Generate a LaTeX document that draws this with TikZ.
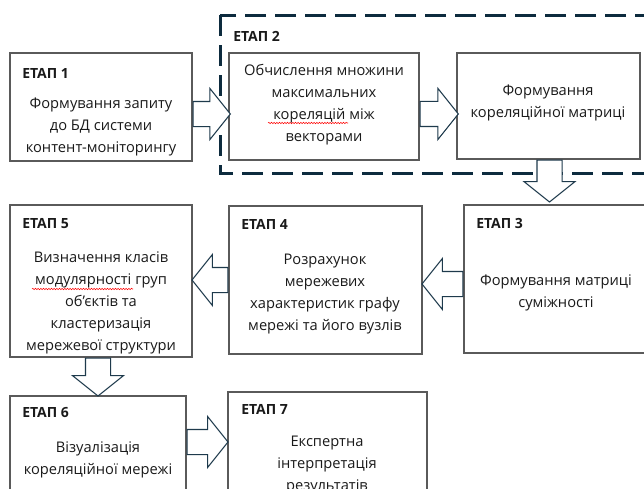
\documentclass[tikz,border=0pt]{standalone}
\usepackage{fontspec}
\setmainfont{Open Sans}
\usetikzlibrary{calc,shapes.arrows,decorations.pathmorphing}
\definecolor{boxc}{HTML}{5A5A5A}
\definecolor{arrc}{HTML}{1E3A4C}
\definecolor{dashc}{HTML}{0D2B3E}
\definecolor{txtc}{HTML}{1A1A1A}
\tikzset{
  stagebox/.style={draw=boxc,line width=0.8pt,fill=white,rectangle,inner sep=0pt},
  body/.style={align=center,text=txtc,font=\fontsize{11pt}{16.5pt}\selectfont,inner sep=0pt,yshift=-1.5pt},
  stagelabel/.style={anchor=west,text=txtc,font=\fontsize{10.5pt}{12pt}\selectfont\bfseries,inner sep=0pt},
  blk/.style={single arrow,draw=arrc,fill=white,line width=0.8pt,inner xsep=0pt,inner ysep=9pt,
    single arrow head extend=9.75pt,single arrow tip angle=102.7,anchor=tail},
  spell/.style={draw=red,line width=0.4pt,decorate,decoration={snake,amplitude=0.5pt,segment length=2pt}}
}
\begin{document}
\begin{tikzpicture}[x=0.75pt,y=-0.75pt]
\useasboundingbox (0,0) rectangle (644,489);
\clip (0,0) rectangle (644,489);
\fill[white] (0,0) rectangle (644,489);
% dashed group
\draw[dashc,line width=2.25pt,dash pattern=on 15.75pt off 6.75pt] (220,15) rectangle (670,173);
% boxes
\node[stagebox,minimum width=136.5pt,minimum height=81pt] (b1) at (101,107) {};
\node[stagebox,minimum width=142.5pt,minimum height=80.25pt] (b2) at (324,106.5) {};
\node[stagebox,minimum width=137.25pt,minimum height=79.5pt] (bm) at (548.5,106) {};
\node[stagebox,minimum width=139.5pt,minimum height=111pt] (b3) at (557,279) {};
\node[stagebox,minimum width=144.75pt,minimum height=111pt] (b4) at (325.5,280) {};
\node[stagebox,minimum width=136.5pt,minimum height=114pt] (b5) at (101,281) {};
\node[stagebox,minimum width=132pt,minimum height=93pt] (b6) at (98,458) {};
\node[stagebox,minimum width=149.25pt,minimum height=96pt] (b7) at (327.5,456) {};
% block arrows between boxes
\path let \p1=(b1.east), \p2=(b2.west) in
  node[blk,minimum height={\x2-\x1+1pt}] (a12) at ({\x1},{\y1-5.25pt}) {};
\path let \p1=(b2.east), \p2=(bm.west) in
  node[blk,minimum height={\x2-\x1+1pt}] (a2m) at ({\x1},{\y1-5.6pt}) {};
\path let \p1=(bm.south), \p2=(b3.north) in
  node[blk,rotate=-90,minimum height={\y1-\y2-2.25pt}] (am3) at ({\x1+0.75pt},{\y1}) {};
\path let \p1=(b3.west), \p2=(b4.east) in
  node[blk,rotate=180,minimum height={\x1-\x2}] (a34) at ({\x1},{\y1-3.75pt}) {};
\path let \p1=(b4.west), \p2=(b5.east) in
  node[blk,rotate=180,minimum height={\x1-\x2}] (a45) at ({\x1},{\y1}) {};
\path let \p1=(b5.south), \p2=(b6.north) in
  node[blk,rotate=-90,minimum height={\y1-\y2}] (a56) at ({\x1-2.25pt},{\y1}) {};
\path let \p1=(b6.east), \p2=(b7.west) in
  node[blk,minimum height={\x2-\x1}] (a67) at ({\x1},{\y1+12pt}) {};
% labels
\node[stagelabel] (l1) at (22,73) {ЕТАП 1};
\node[stagelabel] (l2) at (233,36) {ЕТАП 2};
\node[stagelabel] (l3) at (476,223) {ЕТАП 3};
\node[stagelabel] (l4) at (241,224) {ЕТАП 4};
\node[stagelabel] (l5) at (22,224) {ЕТАП 5};
\node[stagelabel] (l6) at (22,413) {ЕТАП 6};
\node[stagelabel] (l7) at (241,409) {ЕТАП 7};
% body texts
\node[body] (t1) at (101,125) {Формування запиту\\до БД системи\\контент-моніторингу};
\node[body] (t2) at (324,103) {Обчислення множини\\максимальних\\кореляцій між\\векторами};
\node[body] (tm) at (548,101) {Формування\\кореляційної матриці};
\node[body] (t3) at (556,291) {Формування матриці\\суміжності};
\node[body] (t4) at (325,292) {Розрахунок\\мережевих\\характеристик графу\\мережі та його вузлів};
\node[body] (t5) at (101,301) {Визначення класів\\модулярності груп\\об’єктів та\\кластеризація\\мережевої структури};
\node[body] (t6) at (98,458) {Візуалізація\\кореляційної мережі};
\node[body] (t7) at (327,463) {Експертна\\інтерпретація\\результатів};
% spell-check marks
\draw[spell] (268,123) -- (348,123);
\draw[spell] (32,289) -- (133,289);
\end{tikzpicture}
\end{document}
